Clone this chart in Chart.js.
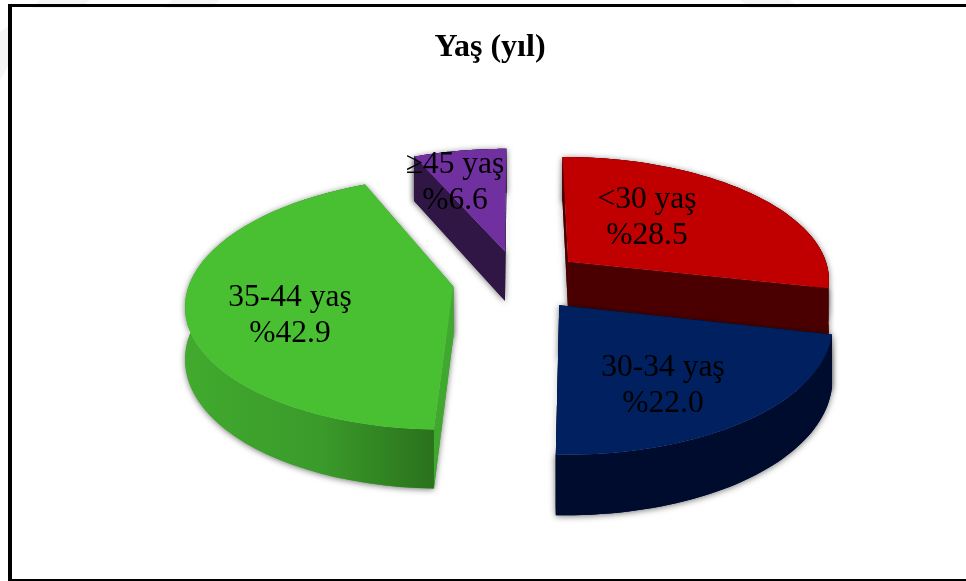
<!DOCTYPE html>
<html lang="tr">
<head>
  <meta charset="UTF-8">
  <title>Yaş (yıl)</title>
  <script src="https://cdn.jsdelivr.net/npm/chart.js"></script>
  <style>
    html, body { margin: 0; padding: 0; background: #fff; overflow: hidden; }
    #page { position: relative; width: 966px; height: 581px; overflow: hidden; }
    #marks { position: absolute; left: 0; top: 0; }
    #frame { position: absolute; left: 8px; top: 4px; right: -10px; bottom: 0; border: solid #000; border-width: 3px 0 2px 4px; }
    #my-chart { position: absolute; left: 0; top: 0; width: 966px; height: 581px; }
  </style>
</head>
<body>
  <div id="page">
    <svg id="marks" width="966" height="581">
      <polygon points="40,0 90,0 80,8 32,8" fill="#f5f5f5"/>
      <polygon points="172,0 220,0 212,8 164,8" fill="#f5f5f5"/>
      <polygon points="740,0 790,0 800,8 750,8" fill="#f5f5f5"/>
      <polygon points="0,32 8,26 8,66 0,80" fill="#f5f5f5"/>
    </svg>
    <div id="frame"></div>
    <div id="my-chart"><canvas id="myChart"></canvas></div>
  </div>

  <script>
    const categories = ['<30 yaş', '30-34 yaş', '35-44 yaş', '≥45 yaş'];
    const values = [28.5, 22.0, 42.9, 6.6];
    const topColors = ['#c00000', '#002060', '#48c032', '#7030a0'];
    const wallColors = ['#4a0000', '#000c2e', '#40a82e', '#2f1645'];
    const titleText = 'Yaş (yıl)';

    // perspective of the pie plane
    const spanX = 263, spanY = 123, depth = 51, persp = 0.13;
    // back to front
    const drawOrder = [3, 0, 2, 1];
    // centre of each label block, page px
    const labelAt = [[647, 218], [663, 386], [290, 316], [455, 183]];

    function project(arc, px, py, h) {
      const R = arc.outerRadius;
      const s = 1 / (1 - persp * py / R);
      return [arc.x + px / R * spanX * s, arc.y + py / R * spanY * s + h * depth * s];
    }

    function fillPath(ctx, pts, fill) {
      ctx.beginPath();
      pts.forEach((p, i) => i ? ctx.lineTo(p[0], p[1]) : ctx.moveTo(p[0], p[1]));
      ctx.closePath();
      ctx.fillStyle = fill;
      ctx.fill();
    }

    const pie3d = {
      id: 'pie3d',
      beforeDatasetDraw(chart, args) {
        const ctx = chart.ctx;
        const arcs = args.meta.data;
        drawOrder.forEach(i => {
          const arc = arcs[i];
          const R = arc.outerRadius, off = arc.options.offset;
          const mid = (arc.startAngle + arc.endAngle) / 2;
          const ox = Math.cos(mid) * off, oy = Math.sin(mid) * off;
          const rim = [];
          for (let k = 0; k <= 48; k++) {
            const a = arc.startAngle + (arc.endAngle - arc.startAngle) * k / 48;
            rim.push([ox + Math.cos(a) * R, oy + Math.sin(a) * R]);
          }
          const top = rim.map(p => project(arc, p[0], p[1], 0));
          const low = rim.map(p => project(arc, p[0], p[1], 1));
          const apex = project(arc, ox, oy, 0), apexLow = project(arc, ox, oy, 1);
          const rimWall = top.concat(low.slice().reverse());

          // soft shadow first, so it never lands on the slice's own walls
          ctx.save();
          ctx.shadowColor = 'rgba(0,0,0,0.55)';
          ctx.shadowBlur = 6;
          ctx.shadowOffsetY = 1;
          fillPath(ctx, [apex, top[0], low[0], apexLow], wallColors[i]);
          fillPath(ctx, [apex, top[48], low[48], apexLow], wallColors[i]);
          fillPath(ctx, rimWall, wallColors[i]);
          ctx.restore();

          fillPath(ctx, [apex, top[0], low[0], apexLow], wallColors[i]);
          fillPath(ctx, [apex, top[48], low[48], apexLow], wallColors[i]);
          let wall = wallColors[i];
          if (i === 2) {
            // green rim darkens towards the front corner
            const xs = low.map(p => p[0]);
            wall = ctx.createLinearGradient(Math.min(...xs), 0, Math.max(...xs), 0);
            wall.addColorStop(0, '#41aa2e');
            wall.addColorStop(0.55, '#3a9a2a');
            wall.addColorStop(1, '#2a721c');
          }
          fillPath(ctx, rimWall, wall);

          fillPath(ctx, [apex].concat(top), topColors[i]);
        });
        return false;
      },
      afterDatasetsDraw(chart) {
        const ctx = chart.ctx;
        ctx.save();
        ctx.fillStyle = '#000';
        ctx.textAlign = 'center';
        ctx.textBaseline = 'middle';
        ctx.font = 'bold 32px "Liberation Serif"';
        ctx.fillText(titleText, 490, 48);
        ctx.font = '31.5px "Liberation Serif"';
        categories.forEach((c, i) => {
          const x = labelAt[i][0], y = labelAt[i][1];
          ctx.fillText(c, x, y - 18);
          ctx.fillText('%' + values[i].toFixed(1), x, y + 18);
        });
        ctx.restore();
      }
    };

    new Chart(document.getElementById('myChart').getContext('2d'), {
      type: 'pie',
      data: {
        labels: categories,
        datasets: [{ data: values, backgroundColor: topColors, borderWidth: 0, offset: 46 }]
      },
      options: {
        responsive: true,
        maintainAspectRatio: false,
        animation: false,
        events: [],
        layout: { padding: { left: 70, top: 73, right: 0, bottom: 93 } },
        plugins: {
          legend: { display: false },
          tooltip: { enabled: false }
        }
      },
      plugins: [pie3d]
    });
  </script>
</body>
</html>
